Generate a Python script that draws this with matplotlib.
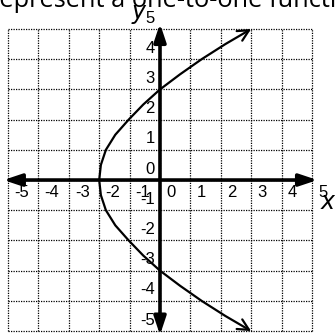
import numpy as np
import matplotlib
matplotlib.use("Agg")
import matplotlib.pyplot as plt
from matplotlib.patches import FancyArrowPatch
from matplotlib.path import Path

# ---- data ----
grid_values = [-5, -4, -3, -2, -1, 0, 1, 2, 3, 4, 5]
x_tick_labels = ["-5", "-4", "-3", "-2", "-1", "0", "1", "2", "3", "4", "5"]
y_tick_labels = ["-5", "-4", "-3", "-2", "-1", "0", "1", "2", "3", "4", "5"]
curve_y = [-5, -4.5, -4, -3.5, -3, -2.5, -2, -1.5, -1, -0.5, 0,
           0.5, 1, 1.5, 2, 2.5, 3, 3.5, 4, 4.5, 5]
curve_x = [3.0, 2.15, 1.37, 0.66, 0.0, -0.55, -1.03, -1.47, -1.78, -1.945, -2.0,
           -1.945, -1.78, -1.47, -1.03, -0.55, 0.0, 0.66, 1.37, 2.15, 3.0]
title_text = "represent a one-to-one function"

fig = plt.figure(figsize=(3.35, 3.35), dpi=100)
ax = fig.add_axes([0, 0, 1, 1])
ax.set_xlim(-5.263, 5.757)
ax.set_ylim(-5.13, 5.96)
ax.axis("off")

# dotted grid
for v in grid_values:
    ax.plot([v, v], [-5, 5], color="black", lw=0.9, linestyle=(0, (1, 1)), zorder=1)
    ax.plot([-5, 5], [v, v], color="black", lw=0.9, linestyle=(0, (1, 1)), zorder=1)

# axes with arrows
ax_style = "<|-|>,head_length=0.6,head_width=0.2"
ax.add_patch(FancyArrowPatch((-5.15, 0), (5.18, 0), arrowstyle=ax_style,
                             mutation_scale=18, lw=2.6, color="black",
                             shrinkA=0, shrinkB=0, zorder=3))
ax.add_patch(FancyArrowPatch((0, -5.13), (0, 5.18), arrowstyle=ax_style,
                             mutation_scale=18, lw=2.6, color="black",
                             shrinkA=0, shrinkB=0, zorder=3))

# curve with open arrowheads
path = Path(np.column_stack([curve_x, curve_y]))
ax.add_patch(FancyArrowPatch(path=path, arrowstyle="<->,head_length=0.5,head_width=0.25",
                             mutation_scale=16, lw=1.6, color="black", zorder=4))

tick_font = dict(family="Liberation Sans", fontsize=12, color="black")
for v, lab in zip(grid_values, x_tick_labels):
    ax.text(v + 0.2, -0.41, lab, ha="left", va="center", zorder=5, **tick_font)
for v, lab in zip(grid_values, y_tick_labels):
    ax.text(-0.17, v + 0.36, lab, ha="right", va="center", zorder=5, **tick_font)

ax.text(-0.69, 5.56, "y", ha="center", va="center", fontsize=17,
        style="italic", family="DejaVu Sans", zorder=5)
ax.text(5.53, -0.73, "x", ha="center", va="center", fontsize=17,
        style="italic", family="DejaVu Sans", zorder=5)

fig.text(-11 / 335, 1 - 7 / 335, title_text, ha="left", va="baseline",
         fontsize=18.3, family="Open Sans", color="black")

fig.savefig("out.png", dpi=100)
